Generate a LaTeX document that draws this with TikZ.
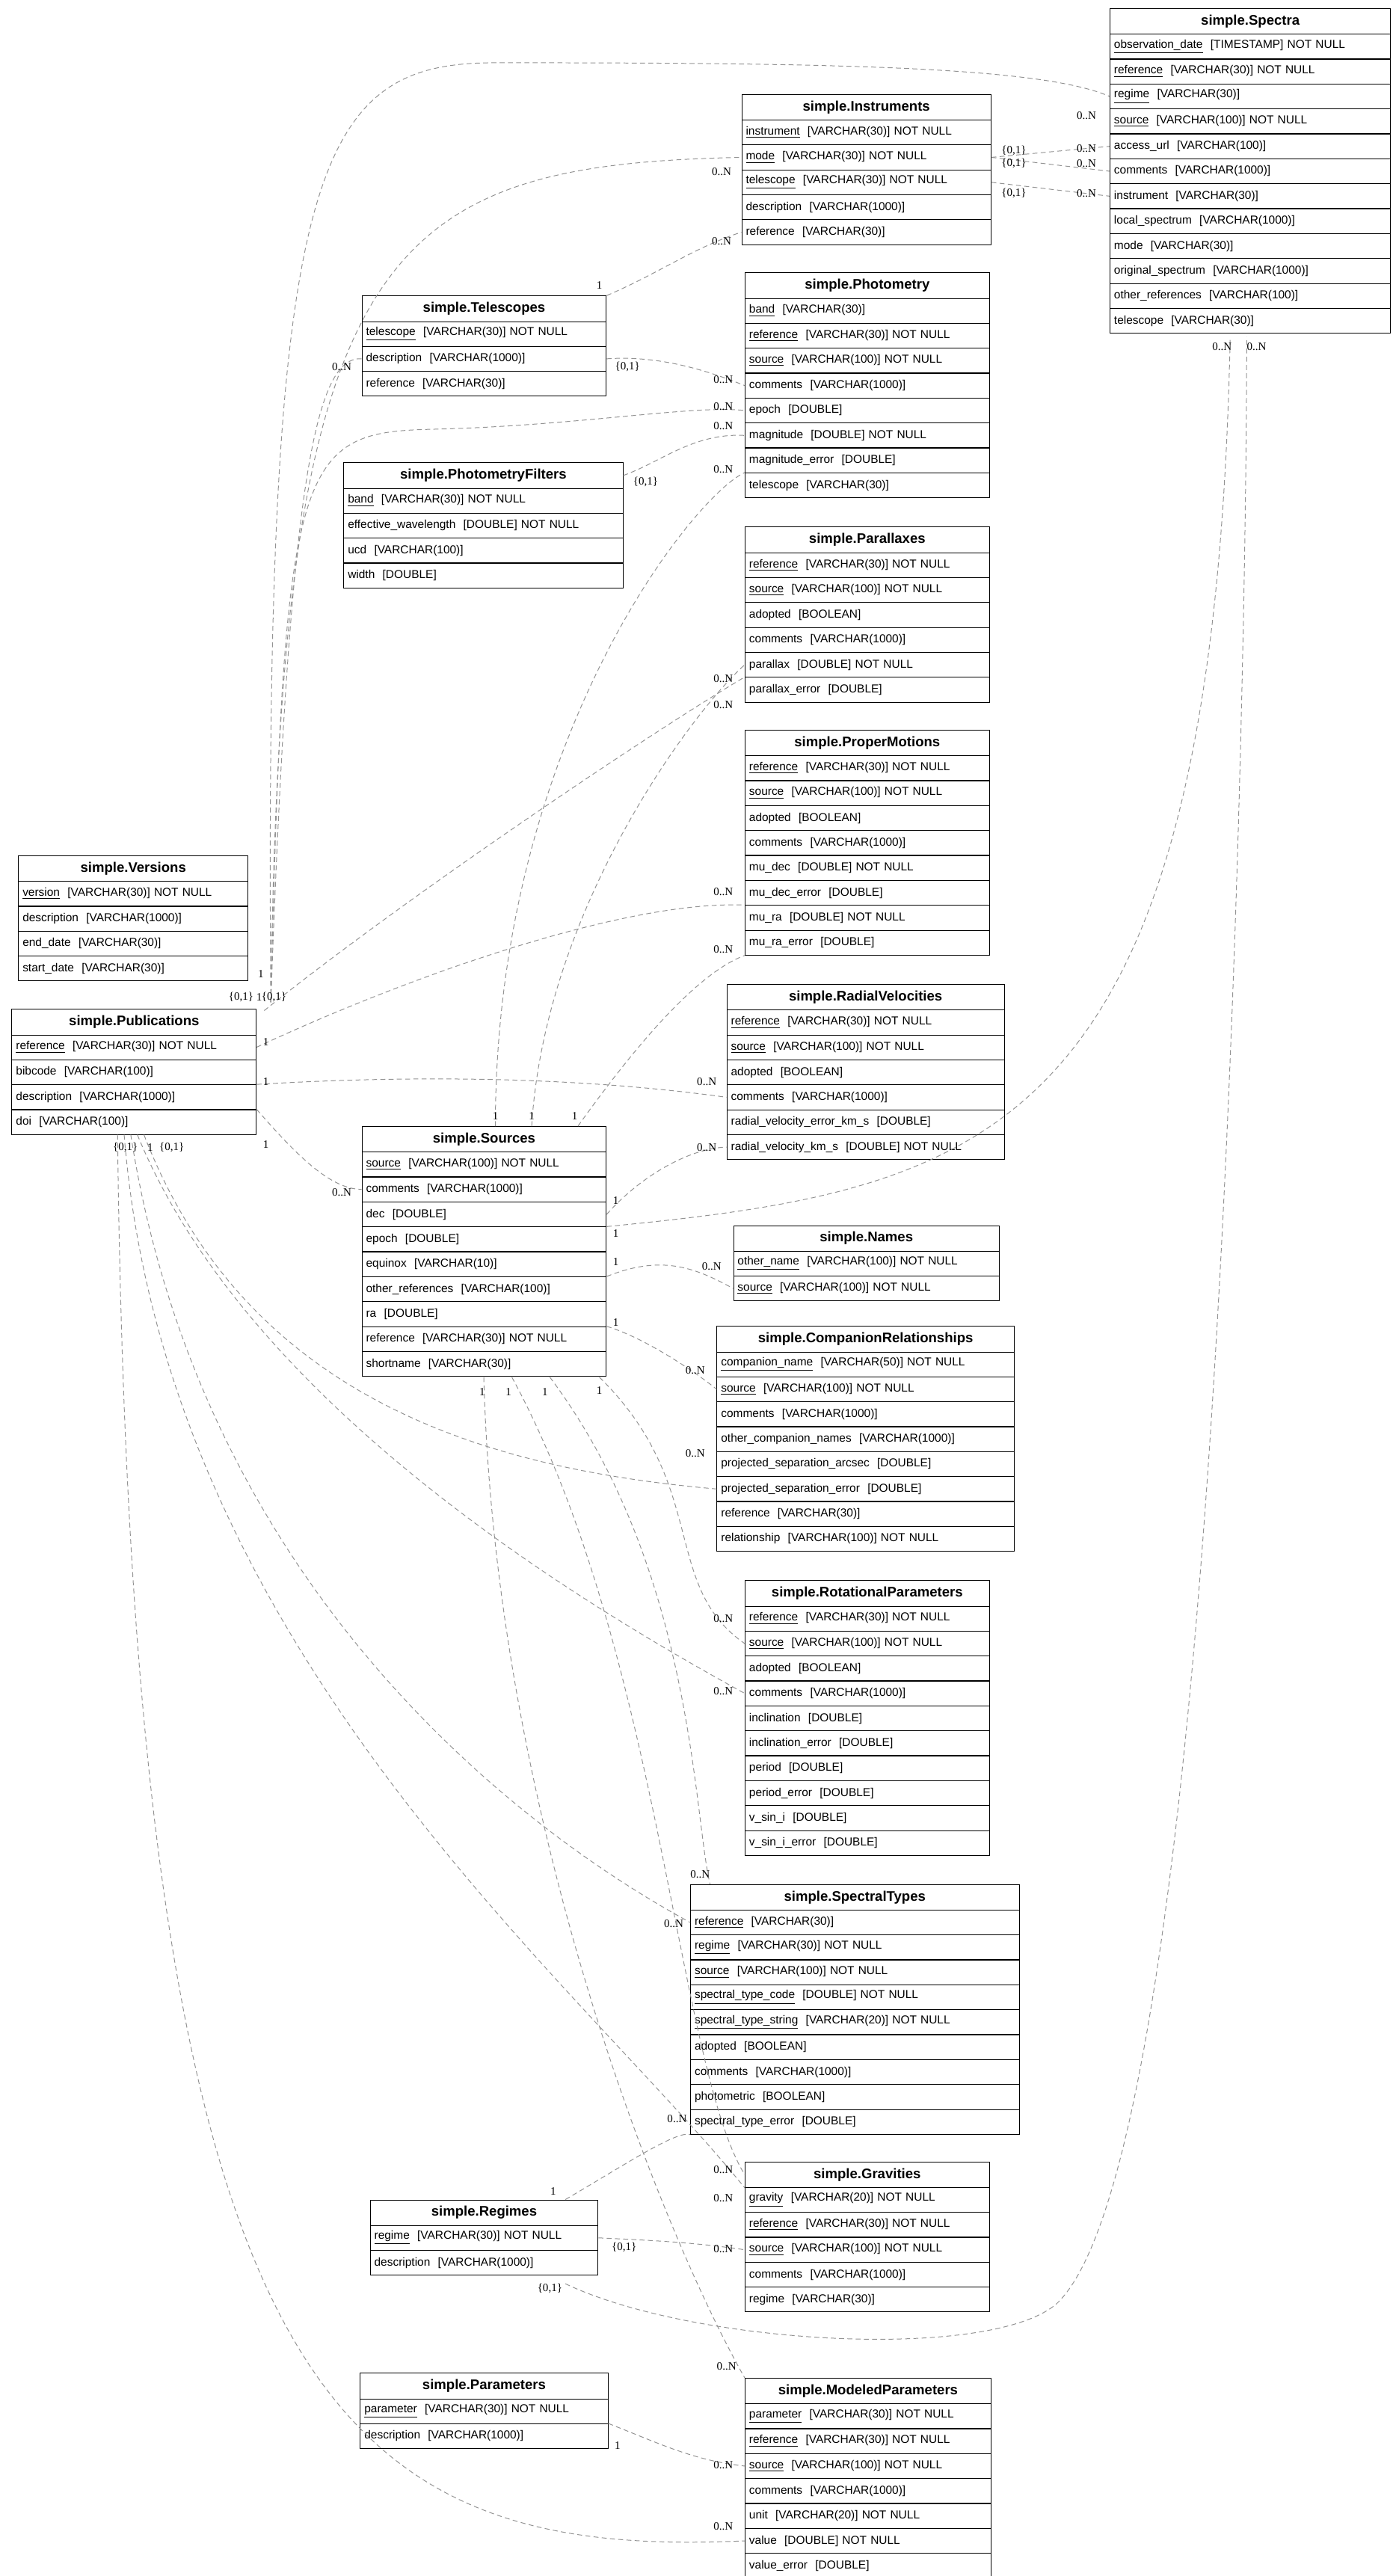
\documentclass[tikz,border=0pt]{standalone}
\usepackage{fontspec}
\setmainfont{Liberation Sans}
\newfontfamily\labfont{Liberation Serif}
\begin{document}
\begin{tikzpicture}[x=1pt,y=-1pt,
 ttl/.style={draw,anchor=north west,minimum height=15.5pt,inner sep=0pt,font=\fontsize{8.4}{9}\selectfont\bfseries},
 row/.style={draw,anchor=north west,minimum height=15pt,inner xsep=2.5pt,inner ysep=0pt,align=left,font=\fontsize{7}{8}\selectfont},
 rel/.style={draw=gray!85,dashed,dash pattern=on 3pt off 2pt,line width=0.45pt},
 lab/.style={font=\labfont\fontsize{6.8}{7}\selectfont,inner sep=0pt}]
\useasboundingbox (0,0) rectangle (845,1560);
\newcommand\ertab[6]{%
 \node[ttl,minimum width=#4pt] (#1-t) at (#2,#3) {#5};
 \foreach \r [count=\i] in {#6} {
  \node[row,text width={#4pt-5pt}] (#1-\i) at (#2,{#3+15.5+(\i-1)*15.1}) {\r};
 }}
\ertab{spec}{672}{5}{170}{simple.Spectra}{{\underline{observation\_date}\ \ [TIMESTAMP] NOT NULL},{\underline{reference}\ \ [VARCHAR(30)] NOT NULL},{\underline{regime}\ \ [VARCHAR(30)]},{\underline{source}\ \ [VARCHAR(100)] NOT NULL},{access\_url\ \ [VARCHAR(100)]},{comments\ \ [VARCHAR(1000)]},{instrument\ \ [VARCHAR(30)]},{local\_spectrum\ \ [VARCHAR(1000)]},{mode\ \ [VARCHAR(30)]},{original\_spectrum\ \ [VARCHAR(1000)]},{other\_references\ \ [VARCHAR(100)]},{telescope\ \ [VARCHAR(30)]}}
\ertab{inst}{449}{57}{151}{simple.Instruments}{{\underline{instrument}\ \ [VARCHAR(30)] NOT NULL},{\underline{mode}\ \ [VARCHAR(30)] NOT NULL},{\underline{telescope}\ \ [VARCHAR(30)] NOT NULL},{description\ \ [VARCHAR(1000)]},{reference\ \ [VARCHAR(30)]}}
\ertab{tel}{219}{179}{148}{simple.Telescopes}{{\underline{telescope}\ \ [VARCHAR(30)] NOT NULL},{description\ \ [VARCHAR(1000)]},{reference\ \ [VARCHAR(30)]}}
\ertab{phot}{451}{165}{148}{simple.Photometry}{{\underline{band}\ \ [VARCHAR(30)]},{\underline{reference}\ \ [VARCHAR(30)] NOT NULL},{\underline{source}\ \ [VARCHAR(100)] NOT NULL},{comments\ \ [VARCHAR(1000)]},{epoch\ \ [DOUBLE]},{magnitude\ \ [DOUBLE] NOT NULL},{magnitude\_error\ \ [DOUBLE]},{telescope\ \ [VARCHAR(30)]}}
\ertab{pf}{208}{280}{169}{simple.PhotometryFilters}{{\underline{band}\ \ [VARCHAR(30)] NOT NULL},{effective\_wavelength\ \ [DOUBLE] NOT NULL},{ucd\ \ [VARCHAR(100)]},{width\ \ [DOUBLE]}}
\ertab{plx}{451}{319}{148}{simple.Parallaxes}{{\underline{reference}\ \ [VARCHAR(30)] NOT NULL},{\underline{source}\ \ [VARCHAR(100)] NOT NULL},{adopted\ \ [BOOLEAN]},{comments\ \ [VARCHAR(1000)]},{parallax\ \ [DOUBLE] NOT NULL},{parallax\_error\ \ [DOUBLE]}}
\ertab{pm}{451}{442}{148}{simple.ProperMotions}{{\underline{reference}\ \ [VARCHAR(30)] NOT NULL},{\underline{source}\ \ [VARCHAR(100)] NOT NULL},{adopted\ \ [BOOLEAN]},{comments\ \ [VARCHAR(1000)]},{mu\_dec\ \ [DOUBLE] NOT NULL},{mu\_dec\_error\ \ [DOUBLE]},{mu\_ra\ \ [DOUBLE] NOT NULL},{mu\_ra\_error\ \ [DOUBLE]}}
\ertab{ver}{11}{518}{139}{simple.Versions}{{\underline{version}\ \ [VARCHAR(30)] NOT NULL},{description\ \ [VARCHAR(1000)]},{end\_date\ \ [VARCHAR(30)]},{start\_date\ \ [VARCHAR(30)]}}
\ertab{pub}{7}{611}{148}{simple.Publications}{{\underline{reference}\ \ [VARCHAR(30)] NOT NULL},{bibcode\ \ [VARCHAR(100)]},{description\ \ [VARCHAR(1000)]},{doi\ \ [VARCHAR(100)]}}
\ertab{rv}{440}{596}{168}{simple.RadialVelocities}{{\underline{reference}\ \ [VARCHAR(30)] NOT NULL},{\underline{source}\ \ [VARCHAR(100)] NOT NULL},{adopted\ \ [BOOLEAN]},{comments\ \ [VARCHAR(1000)]},{radial\_velocity\_error\_km\_s\ \ [DOUBLE]},{radial\_velocity\_km\_s\ \ [DOUBLE] NOT NULL}}
\ertab{src}{219}{682}{148}{simple.Sources}{{\underline{source}\ \ [VARCHAR(100)] NOT NULL},{comments\ \ [VARCHAR(1000)]},{dec\ \ [DOUBLE]},{epoch\ \ [DOUBLE]},{equinox\ \ [VARCHAR(10)]},{other\_references\ \ [VARCHAR(100)]},{ra\ \ [DOUBLE]},{reference\ \ [VARCHAR(30)] NOT NULL},{shortname\ \ [VARCHAR(30)]}}
\ertab{nam}{444}{742}{161}{simple.Names}{{\underline{other\_name}\ \ [VARCHAR(100)] NOT NULL},{\underline{source}\ \ [VARCHAR(100)] NOT NULL}}
\ertab{cr}{434}{803}{180}{simple.CompanionRelationships}{{\underline{companion\_name}\ \ [VARCHAR(50)] NOT NULL},{\underline{source}\ \ [VARCHAR(100)] NOT NULL},{comments\ \ [VARCHAR(1000)]},{other\_companion\_names\ \ [VARCHAR(1000)]},{projected\_separation\_arcsec\ \ [DOUBLE]},{projected\_separation\_error\ \ [DOUBLE]},{reference\ \ [VARCHAR(30)]},{relationship\ \ [VARCHAR(100)] NOT NULL}}
\ertab{rot}{451}{957}{148}{simple.RotationalParameters}{{\underline{reference}\ \ [VARCHAR(30)] NOT NULL},{\underline{source}\ \ [VARCHAR(100)] NOT NULL},{adopted\ \ [BOOLEAN]},{comments\ \ [VARCHAR(1000)]},{inclination\ \ [DOUBLE]},{inclination\_error\ \ [DOUBLE]},{period\ \ [DOUBLE]},{period\_error\ \ [DOUBLE]},{v\_sin\_i\ \ [DOUBLE]},{v\_sin\_i\_error\ \ [DOUBLE]}}
\ertab{st}{418}{1141}{199}{simple.SpectralTypes}{{\underline{reference}\ \ [VARCHAR(30)]},{\underline{regime}\ \ [VARCHAR(30)] NOT NULL},{\underline{source}\ \ [VARCHAR(100)] NOT NULL},{\underline{spectral\_type\_code}\ \ [DOUBLE] NOT NULL},{\underline{spectral\_type\_string}\ \ [VARCHAR(20)] NOT NULL},{adopted\ \ [BOOLEAN]},{comments\ \ [VARCHAR(1000)]},{photometric\ \ [BOOLEAN]},{spectral\_type\_error\ \ [DOUBLE]}}
\ertab{grv}{451}{1309}{148}{simple.Gravities}{{\underline{gravity}\ \ [VARCHAR(20)] NOT NULL},{\underline{reference}\ \ [VARCHAR(30)] NOT NULL},{\underline{source}\ \ [VARCHAR(100)] NOT NULL},{comments\ \ [VARCHAR(1000)]},{regime\ \ [VARCHAR(30)]}}
\ertab{reg}{224}{1332}{138}{simple.Regimes}{{\underline{regime}\ \ [VARCHAR(30)] NOT NULL},{description\ \ [VARCHAR(1000)]}}
\ertab{par}{218}{1437}{150}{simple.Parameters}{{\underline{parameter}\ \ [VARCHAR(30)] NOT NULL},{description\ \ [VARCHAR(1000)]}}
\ertab{mp}{451}{1440}{149}{simple.ModeledParameters}{{\underline{parameter}\ \ [VARCHAR(30)] NOT NULL},{\underline{reference}\ \ [VARCHAR(30)] NOT NULL},{\underline{source}\ \ [VARCHAR(100)] NOT NULL},{comments\ \ [VARCHAR(1000)]},{unit\ \ [VARCHAR(20)] NOT NULL},{value\ \ [DOUBLE] NOT NULL},{value\_error\ \ [DOUBLE]}}

% Publications relations
\coordinate (pa) at (164,607); \coordinate (pb) at (160,612);
\draw[rel] (pa) .. controls (160,100) and (190,38) .. (300,38) .. controls (500,38) and (630,40) .. (spec-3.west);
\draw[rel] (pa) .. controls (170,150) and (230,100) .. (inst-2.west);
\draw[rel] (pa) .. controls (175,300) and (190,215) .. (tel-2.west);
\draw[rel] (pa) .. controls (172,280) and (180,262) .. (260,260) .. controls (350,258) and (420,245) .. (phot-5.west);
\draw[rel] (pb) .. controls (250,540) and (400,440) .. (plx-6.north west);
\draw[rel] (pub-1.east) .. controls (250,590) and (380,545) .. (pm-7.north west);
\draw[rel] (pub-3.north east) .. controls (250,651) and (350,652) .. (rv-4.west);
\draw[rel] (pub-4.north east) .. controls (180,700) and (200,720) .. (src-2.west);
\draw[rel] (pub-4.south)++(6,0) .. controls (150,850) and (300,890) .. (cr-6.west);
\draw[rel] (pub-4.south)++(2,0) .. controls (150,850) and (350,970) .. (rot-4.west);
\draw[rel] (pub-4.south)++(-2,0) .. controls (120,950) and (300,1100) .. (st-1.west);
\draw[rel] (pub-4.south)++(-6,0) .. controls (100,1000) and (350,1200) .. (grv-t.south west);
\draw[rel] (pub-4.south)++(-10,0) .. controls (80,1450) and (200,1550) .. (mp-6.west);
\node[lab] at (146,604) {\{0,1\}}; \node[lab] at (157,604) {1}; \node[lab] at (166,604) {\{0,1\}};
\node[lab] at (158,590) {1}; \node[lab] at (161,631) {1}; \node[lab] at (161,655) {1}; \node[lab] at (161,693) {1};
\node[lab] at (76,695) {\{0,1\}}; \node[lab] at (91,695) {1}; \node[lab] at (104,695) {\{0,1\}};
\node[lab] at (658,70) {0..N}; \node[lab] at (437,104) {0..N}; \node[lab] at (207,222) {0..N};
\node[lab] at (438,246) {0..N}; \node[lab] at (438,427) {0..N}; \node[lab] at (438,540) {0..N};
\node[lab] at (428,655) {0..N}; \node[lab] at (207,722) {0..N}; \node[lab] at (421,880) {0..N};
\node[lab] at (438,1024) {0..N}; \node[lab] at (408,1165) {0..N}; \node[lab] at (438,1331) {0..N};
\node[lab] at (438,1530) {0..N};

% Instruments -> Spectra
\draw[rel] (inst-2.east) -- (spec-5.west); \draw[rel] (inst-2.east) -- (spec-6.west); \draw[rel] (inst-3.east) -- (spec-7.west);
\node[lab] at (614,91) {\{0,1\}}; \node[lab] at (614,99) {\{0,1\}}; \node[lab] at (614,117) {\{0,1\}};
\node[lab] at (658,90) {0..N}; \node[lab] at (658,99) {0..N}; \node[lab] at (658,117) {0..N};

% Sources -> Spectra, Regimes -> Spectra
\coordinate (sa) at (745,204); \coordinate (sb) at (755,204);
\draw[rel] (src-4.north east) .. controls (600,720) and (735,690) .. (sa);
\draw[rel] (reg-2.south east) ++(-20,5) .. controls (420,1420) and (600,1430) .. (640,1395) .. controls (740,1300) and (755,400) .. (sb);
\node[lab] at (740,210) {0..N}; \node[lab] at (761,210) {0..N};
\node[lab] at (373,747) {1}; \node[lab] at (333,1386) {\{0,1\}};

% Telescopes / filters
\draw[rel] (tel-t.north east) .. controls (400,165) and (420,150) .. (inst-5.west);
\draw[rel] (tel-2.east) .. controls (400,215) and (430,225) .. (phot-4.west);
\draw[rel] (pf-t.east) .. controls (400,280) and (420,262) .. (phot-6.west);
\node[lab] at (363,173) {1}; \node[lab] at (437,146) {0..N};
\node[lab] at (380,222) {\{0,1\}}; \node[lab] at (438,230) {0..N};
\node[lab] at (391,292) {\{0,1\}}; \node[lab] at (438,258) {0..N};

% Sources relations
\coordinate (s1) at (300,682); \coordinate (s2) at (322,682); \coordinate (s3) at (350,682);
\coordinate (stn) at (430,1141);
\draw[rel] (s1) .. controls (300,450) and (420,300) .. (phot-8.north west);
\draw[rel] (s2) .. controls (330,550) and (420,430) .. (plx-5.west);
\draw[rel] (s3) .. controls (380,640) and (420,590) .. (pm-8.south west);
\draw[rel] (src-3.east) .. controls (390,710) and (420,695) .. (rv-6.west);
\draw[rel] (src-6.north east) .. controls (400,760) and (420,767) .. (nam-2.west);
\draw[rel] (src-8.north east) .. controls (390,810) and (420,830) .. (cr-2.west);
\coordinate (b1) at (363,834); \coordinate (b2) at (333,834); \coordinate (b3) at (310,834); \coordinate (b4) at (293,834);
\draw[rel] (b1) .. controls (430,900) and (400,960) .. (rot-2.west);
\draw[rel] (b2) .. controls (420,950) and (420,1100) .. (stn);
\draw[rel] (b3) .. controls (400,1000) and (410,1250) .. (grv-t.west);
\draw[rel] (b4) .. controls (300,1100) and (400,1350) .. (mp-t.north west);
\node[lab] at (300,676) {1}; \node[lab] at (322,676) {1}; \node[lab] at (348,676) {1};
\node[lab] at (438,284) {0..N}; \node[lab] at (438,411) {0..N}; \node[lab] at (438,575) {0..N};
\node[lab] at (373,727) {1}; \node[lab] at (428,695) {0..N};
\node[lab] at (373,764) {1}; \node[lab] at (431,767) {0..N};
\node[lab] at (373,801) {1}; \node[lab] at (421,830) {0..N};
\node[lab] at (363,842) {1}; \node[lab] at (438,980) {0..N};
\node[lab] at (330,843) {1}; \node[lab] at (424,1135) {0..N};
\node[lab] at (308,843) {1}; \node[lab] at (438,1314) {0..N};
\node[lab] at (292,843) {1}; \node[lab] at (440,1433) {0..N};

% Regimes, Parameters
\draw[rel] (reg-t.north east) ++(-20,0) .. controls (380,1310) and (410,1290) .. (st-9.south west);
\draw[rel] (reg-1.east) .. controls (400,1357) and (420,1358) .. (grv-3.west);
\draw[rel] (par-2.north east) .. controls (400,1480) and (420,1490) .. (mp-3.west);
\node[lab] at (335,1327) {1}; \node[lab] at (410,1283) {0..N};
\node[lab] at (378,1361) {\{0,1\}}; \node[lab] at (438,1362) {0..N};
\node[lab] at (374,1481) {1}; \node[lab] at (438,1493) {0..N};
\end{tikzpicture}
\end{document}
